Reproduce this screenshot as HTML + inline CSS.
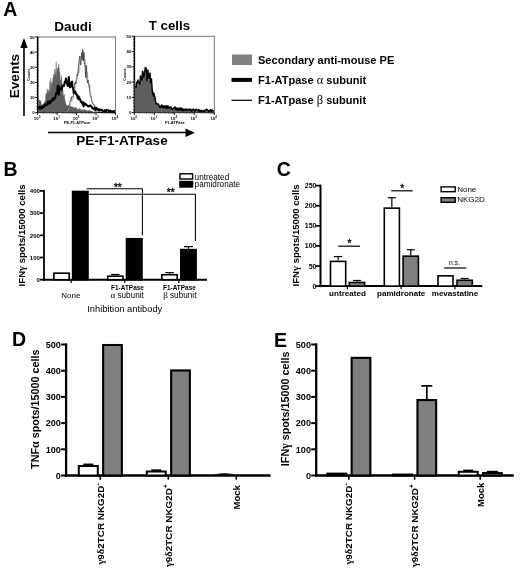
<!DOCTYPE html>
<html><head><meta charset="utf-8"><title>Figure</title>
<style>
html,body{margin:0;padding:0;background:#fff;}
svg{display:block;font-family:"Liberation Sans",sans-serif;}
</style></head><body>
<svg width="520" height="571" viewBox="0 0 520 571">
<rect width="520" height="571" fill="#fff"/>
<text x="3.2" y="16.1" font-size="19.5" font-weight="bold" text-anchor="start" fill="#000">A</text>
<text x="73" y="31" font-size="13.5" font-weight="bold" text-anchor="middle" fill="#000">Daudi</text>
<text x="169.4" y="29.6" font-size="13.3" font-weight="bold" text-anchor="middle" fill="#000">T cells</text>
<line x1="24" y1="116" x2="24" y2="46" stroke="#000" stroke-width="1.6" stroke-linecap="butt"/>
<path d="M24 38 L20.3 48 L27.7 48 Z" fill="#000" stroke="none" stroke-width="1" stroke-linejoin="round"/>
<text x="18.5" y="76" font-size="13.5" font-weight="bold" text-anchor="middle" fill="#000" transform="rotate(-90 18.5 76)">Events</text>
<line x1="48" y1="132.5" x2="188" y2="132.5" stroke="#000" stroke-width="1.6" stroke-linecap="butt"/>
<path d="M194.8 132.8 L185.5 128.6 L185.5 137 Z" fill="#000" stroke="none" stroke-width="1" stroke-linejoin="round"/>
<text x="122" y="145" font-size="13.5" font-weight="bold" text-anchor="middle" fill="#000">PE-F1-ATPase</text>
<rect x="37.70" y="37.00" width="77.80" height="75.60" fill="#fff" stroke="#666" stroke-width="0.9"/>
<line x1="37.7" y1="37" x2="37.7" y2="112.6" stroke="#000" stroke-width="1.5" stroke-linecap="butt"/>
<line x1="37.7" y1="112.6" x2="115.5" y2="112.6" stroke="#000" stroke-width="0.9" stroke-linecap="butt"/>
<line x1="36.400000000000006" y1="112.6" x2="37.7" y2="112.6" stroke="#000" stroke-width="0.6" stroke-linecap="butt"/>
<line x1="36.400000000000006" y1="109.576" x2="37.7" y2="109.576" stroke="#000" stroke-width="0.6" stroke-linecap="butt"/>
<line x1="36.400000000000006" y1="106.55199999999999" x2="37.7" y2="106.55199999999999" stroke="#000" stroke-width="0.6" stroke-linecap="butt"/>
<line x1="36.400000000000006" y1="103.52799999999999" x2="37.7" y2="103.52799999999999" stroke="#000" stroke-width="0.6" stroke-linecap="butt"/>
<line x1="36.400000000000006" y1="100.50399999999999" x2="37.7" y2="100.50399999999999" stroke="#000" stroke-width="0.6" stroke-linecap="butt"/>
<line x1="36.400000000000006" y1="97.47999999999999" x2="37.7" y2="97.47999999999999" stroke="#000" stroke-width="0.6" stroke-linecap="butt"/>
<line x1="36.400000000000006" y1="94.45599999999999" x2="37.7" y2="94.45599999999999" stroke="#000" stroke-width="0.6" stroke-linecap="butt"/>
<line x1="36.400000000000006" y1="91.432" x2="37.7" y2="91.432" stroke="#000" stroke-width="0.6" stroke-linecap="butt"/>
<line x1="36.400000000000006" y1="88.408" x2="37.7" y2="88.408" stroke="#000" stroke-width="0.6" stroke-linecap="butt"/>
<line x1="36.400000000000006" y1="85.384" x2="37.7" y2="85.384" stroke="#000" stroke-width="0.6" stroke-linecap="butt"/>
<line x1="36.400000000000006" y1="82.36" x2="37.7" y2="82.36" stroke="#000" stroke-width="0.6" stroke-linecap="butt"/>
<line x1="36.400000000000006" y1="79.336" x2="37.7" y2="79.336" stroke="#000" stroke-width="0.6" stroke-linecap="butt"/>
<line x1="36.400000000000006" y1="76.312" x2="37.7" y2="76.312" stroke="#000" stroke-width="0.6" stroke-linecap="butt"/>
<line x1="36.400000000000006" y1="73.288" x2="37.7" y2="73.288" stroke="#000" stroke-width="0.6" stroke-linecap="butt"/>
<line x1="36.400000000000006" y1="70.26400000000001" x2="37.7" y2="70.26400000000001" stroke="#000" stroke-width="0.6" stroke-linecap="butt"/>
<line x1="36.400000000000006" y1="67.24" x2="37.7" y2="67.24" stroke="#000" stroke-width="0.6" stroke-linecap="butt"/>
<line x1="36.400000000000006" y1="64.21600000000001" x2="37.7" y2="64.21600000000001" stroke="#000" stroke-width="0.6" stroke-linecap="butt"/>
<line x1="36.400000000000006" y1="61.192" x2="37.7" y2="61.192" stroke="#000" stroke-width="0.6" stroke-linecap="butt"/>
<line x1="36.400000000000006" y1="58.168" x2="37.7" y2="58.168" stroke="#000" stroke-width="0.6" stroke-linecap="butt"/>
<line x1="36.400000000000006" y1="55.144" x2="37.7" y2="55.144" stroke="#000" stroke-width="0.6" stroke-linecap="butt"/>
<line x1="36.400000000000006" y1="52.12" x2="37.7" y2="52.12" stroke="#000" stroke-width="0.6" stroke-linecap="butt"/>
<line x1="36.400000000000006" y1="49.096" x2="37.7" y2="49.096" stroke="#000" stroke-width="0.6" stroke-linecap="butt"/>
<line x1="36.400000000000006" y1="46.072" x2="37.7" y2="46.072" stroke="#000" stroke-width="0.6" stroke-linecap="butt"/>
<line x1="36.400000000000006" y1="43.048" x2="37.7" y2="43.048" stroke="#000" stroke-width="0.6" stroke-linecap="butt"/>
<line x1="36.400000000000006" y1="40.024" x2="37.7" y2="40.024" stroke="#000" stroke-width="0.6" stroke-linecap="butt"/>
<line x1="36.400000000000006" y1="37.0" x2="37.7" y2="37.0" stroke="#000" stroke-width="0.6" stroke-linecap="butt"/>
<line x1="35.1" y1="112.6" x2="37.7" y2="112.6" stroke="#000" stroke-width="0.9" stroke-linecap="butt"/>
<text x="34.7" y="114.1" font-size="4.3" font-weight="bold" text-anchor="end" fill="#000">0</text>
<line x1="35.1" y1="97.47999999999999" x2="37.7" y2="97.47999999999999" stroke="#000" stroke-width="0.9" stroke-linecap="butt"/>
<text x="34.7" y="98.97999999999999" font-size="4.3" font-weight="bold" text-anchor="end" fill="#000">10</text>
<line x1="35.1" y1="82.36" x2="37.7" y2="82.36" stroke="#000" stroke-width="0.9" stroke-linecap="butt"/>
<text x="34.7" y="83.86" font-size="4.3" font-weight="bold" text-anchor="end" fill="#000">20</text>
<line x1="35.1" y1="67.24" x2="37.7" y2="67.24" stroke="#000" stroke-width="0.9" stroke-linecap="butt"/>
<text x="34.7" y="68.74" font-size="4.3" font-weight="bold" text-anchor="end" fill="#000">30</text>
<line x1="35.1" y1="52.12" x2="37.7" y2="52.12" stroke="#000" stroke-width="0.9" stroke-linecap="butt"/>
<text x="34.7" y="53.62" font-size="4.3" font-weight="bold" text-anchor="end" fill="#000">40</text>
<line x1="35.1" y1="37.0" x2="37.7" y2="37.0" stroke="#000" stroke-width="0.9" stroke-linecap="butt"/>
<text x="34.7" y="38.5" font-size="4.3" font-weight="bold" text-anchor="end" fill="#000">50</text>
<line x1="37.7" y1="112.6" x2="37.7" y2="115.0" stroke="#000" stroke-width="0.9" stroke-linecap="butt"/>
<text x="37.1" y="119.6" font-size="4.4" font-weight="bold" text-anchor="middle">10<tspan dy="-1.8" font-size="3">0</tspan></text>
<line x1="43.55503341566444" y1="112.6" x2="43.55503341566444" y2="113.8" stroke="#000" stroke-width="0.4" stroke-linecap="butt"/>
<line x1="46.980008404297436" y1="112.6" x2="46.980008404297436" y2="113.8" stroke="#000" stroke-width="0.4" stroke-linecap="butt"/>
<line x1="49.41006683132887" y1="112.6" x2="49.41006683132887" y2="113.8" stroke="#000" stroke-width="0.4" stroke-linecap="butt"/>
<line x1="51.29496658433557" y1="112.6" x2="51.29496658433557" y2="113.8" stroke="#000" stroke-width="0.4" stroke-linecap="butt"/>
<line x1="52.83504181996187" y1="112.6" x2="52.83504181996187" y2="113.8" stroke="#000" stroke-width="0.4" stroke-linecap="butt"/>
<line x1="54.137156878277295" y1="112.6" x2="54.137156878277295" y2="113.8" stroke="#000" stroke-width="0.4" stroke-linecap="butt"/>
<line x1="55.2651002469933" y1="112.6" x2="55.2651002469933" y2="113.8" stroke="#000" stroke-width="0.4" stroke-linecap="butt"/>
<line x1="56.26001680859487" y1="112.6" x2="56.26001680859487" y2="113.8" stroke="#000" stroke-width="0.4" stroke-linecap="butt"/>
<line x1="57.150000000000006" y1="112.6" x2="57.150000000000006" y2="115.0" stroke="#000" stroke-width="0.9" stroke-linecap="butt"/>
<text x="56.6" y="119.6" font-size="4.4" font-weight="bold" text-anchor="middle">10<tspan dy="-1.8" font-size="3">1</tspan></text>
<line x1="63.00503341566444" y1="112.6" x2="63.00503341566444" y2="113.8" stroke="#000" stroke-width="0.4" stroke-linecap="butt"/>
<line x1="66.43000840429744" y1="112.6" x2="66.43000840429744" y2="113.8" stroke="#000" stroke-width="0.4" stroke-linecap="butt"/>
<line x1="68.86006683132888" y1="112.6" x2="68.86006683132888" y2="113.8" stroke="#000" stroke-width="0.4" stroke-linecap="butt"/>
<line x1="70.74496658433557" y1="112.6" x2="70.74496658433557" y2="113.8" stroke="#000" stroke-width="0.4" stroke-linecap="butt"/>
<line x1="72.28504181996188" y1="112.6" x2="72.28504181996188" y2="113.8" stroke="#000" stroke-width="0.4" stroke-linecap="butt"/>
<line x1="73.5871568782773" y1="112.6" x2="73.5871568782773" y2="113.8" stroke="#000" stroke-width="0.4" stroke-linecap="butt"/>
<line x1="74.7151002469933" y1="112.6" x2="74.7151002469933" y2="113.8" stroke="#000" stroke-width="0.4" stroke-linecap="butt"/>
<line x1="75.71001680859487" y1="112.6" x2="75.71001680859487" y2="113.8" stroke="#000" stroke-width="0.4" stroke-linecap="butt"/>
<line x1="76.6" y1="112.6" x2="76.6" y2="115.0" stroke="#000" stroke-width="0.9" stroke-linecap="butt"/>
<text x="76.0" y="119.6" font-size="4.4" font-weight="bold" text-anchor="middle">10<tspan dy="-1.8" font-size="3">2</tspan></text>
<line x1="82.45503341566443" y1="112.6" x2="82.45503341566443" y2="113.8" stroke="#000" stroke-width="0.4" stroke-linecap="butt"/>
<line x1="85.88000840429743" y1="112.6" x2="85.88000840429743" y2="113.8" stroke="#000" stroke-width="0.4" stroke-linecap="butt"/>
<line x1="88.31006683132887" y1="112.6" x2="88.31006683132887" y2="113.8" stroke="#000" stroke-width="0.4" stroke-linecap="butt"/>
<line x1="90.19496658433556" y1="112.6" x2="90.19496658433556" y2="113.8" stroke="#000" stroke-width="0.4" stroke-linecap="butt"/>
<line x1="91.73504181996186" y1="112.6" x2="91.73504181996186" y2="113.8" stroke="#000" stroke-width="0.4" stroke-linecap="butt"/>
<line x1="93.03715687827729" y1="112.6" x2="93.03715687827729" y2="113.8" stroke="#000" stroke-width="0.4" stroke-linecap="butt"/>
<line x1="94.16510024699329" y1="112.6" x2="94.16510024699329" y2="113.8" stroke="#000" stroke-width="0.4" stroke-linecap="butt"/>
<line x1="95.16001680859486" y1="112.6" x2="95.16001680859486" y2="113.8" stroke="#000" stroke-width="0.4" stroke-linecap="butt"/>
<line x1="96.05" y1="112.6" x2="96.05" y2="115.0" stroke="#000" stroke-width="0.9" stroke-linecap="butt"/>
<text x="95.5" y="119.6" font-size="4.4" font-weight="bold" text-anchor="middle">10<tspan dy="-1.8" font-size="3">3</tspan></text>
<line x1="101.90503341566443" y1="112.6" x2="101.90503341566443" y2="113.8" stroke="#000" stroke-width="0.4" stroke-linecap="butt"/>
<line x1="105.33000840429743" y1="112.6" x2="105.33000840429743" y2="113.8" stroke="#000" stroke-width="0.4" stroke-linecap="butt"/>
<line x1="107.76006683132887" y1="112.6" x2="107.76006683132887" y2="113.8" stroke="#000" stroke-width="0.4" stroke-linecap="butt"/>
<line x1="109.64496658433556" y1="112.6" x2="109.64496658433556" y2="113.8" stroke="#000" stroke-width="0.4" stroke-linecap="butt"/>
<line x1="111.18504181996187" y1="112.6" x2="111.18504181996187" y2="113.8" stroke="#000" stroke-width="0.4" stroke-linecap="butt"/>
<line x1="112.48715687827729" y1="112.6" x2="112.48715687827729" y2="113.8" stroke="#000" stroke-width="0.4" stroke-linecap="butt"/>
<line x1="113.6151002469933" y1="112.6" x2="113.6151002469933" y2="113.8" stroke="#000" stroke-width="0.4" stroke-linecap="butt"/>
<line x1="114.61001680859486" y1="112.6" x2="114.61001680859486" y2="113.8" stroke="#000" stroke-width="0.4" stroke-linecap="butt"/>
<line x1="115.5" y1="112.6" x2="115.5" y2="115.0" stroke="#000" stroke-width="0.9" stroke-linecap="butt"/>
<text x="114.9" y="119.6" font-size="4.4" font-weight="bold" text-anchor="middle">10<tspan dy="-1.8" font-size="3">4</tspan></text>
<text x="29.700000000000003" y="74.8" font-size="3.6" font-weight="bold" text-anchor="middle" fill="#000" transform="rotate(-90 29.700000000000003 74.8)">Counts</text>
<text x="77.1" y="123.6" font-size="3.9" font-weight="bold" text-anchor="middle" fill="#000">PE-F1-ATPase</text>
<path d="M38.2 101.1 L38.7 98.9 L39.1 101.3 L39.6 100.1 L40.0 100.1 L40.5 100.9 L40.9 101.8 L41.4 105.1 L41.8 105.6 L42.2 105.9 L42.7 105.0 L43.2 105.1 L43.6 103.7 L44.1 102.9 L44.5 101.7 L45.0 101.9 L45.4 100.3 L45.9 93.5 L46.3 94.3 L46.8 93.9 L47.2 88.8 L47.7 91.3 L48.1 92.6 L48.5 89.7 L49.0 93.5 L49.5 90.2 L49.9 81.0 L50.3 92.9 L50.8 78.0 L51.2 89.1 L51.7 82.2 L52.1 84.1 L52.6 81.2 L53.0 78.7 L53.5 74.2 L53.9 75.1 L54.4 77.9 L54.8 69.1 L55.3 74.2 L55.7 73.3 L56.2 61.7 L56.6 78.2 L57.1 70.1 L57.5 68.5 L58.0 68.3 L58.4 67.3 L58.9 64.3 L59.3 71.0 L59.8 72.4 L60.2 79.0 L60.7 80.6 L61.1 81.6 L61.6 75.6 L62.0 84.1 L62.5 86.6 L62.9 90.0 L63.4 95.5 L63.8 96.2 L64.3 94.3 L64.7 98.7 L65.2 100.9 L65.6 103.1 L66.1 104.6 L66.5 106.1 L67.0 105.5 L67.4 106.3 L67.9 105.3 L68.3 105.5 L68.8 106.2 L69.2 105.1 L69.7 105.8 L70.1 106.1 L70.6 106.4 L71.0 107.0 L71.5 106.6 L71.9 107.3 L72.4 106.9 L72.8 106.9 L73.3 107.4 L73.8 107.5 L74.2 107.6 L74.7 108.7 L75.1 107.7 L75.6 107.5 L76.0 107.5 L76.5 107.8 L76.9 109.0 L77.4 109.4 L77.8 109.0 L78.3 109.4 L78.7 108.8 L79.2 109.7 L79.6 108.1 L80.1 108.7 L80.5 109.5 L81.0 109.8 L81.4 109.4 L81.9 110.1 L82.3 110.2 L82.8 110.2 L83.2 109.5 L83.7 110.7 L84.1 109.0 L84.6 109.6 L85.0 110.7 L85.5 110.0 L85.9 110.0 L86.4 110.3 L86.8 110.8 L87.3 110.8 L87.7 110.8 L88.2 110.1 L88.6 110.9 L89.1 110.4 L89.5 110.3 L90.0 110.4 L90.4 110.9 L90.9 110.5 L91.3 111.4 L91.8 111.1 L92.2 110.9 L92.7 112.0 L93.1 111.9 L93.6 112.0 L94.0 111.9 L94.5 111.5 L94.9 111.8 L95.4 111.3 L95.8 112.0 L96.3 112.0 L96.7 111.3 L97.2 111.9 L97.6 111.9 L97.6 112.3 L38.2 112.3 Z" fill="#5e5e5e" stroke="#5e5e5e" stroke-width="0.4" stroke-linejoin="round"/>
<path d="M64.2 111.2 L64.7 112.0 L65.1 110.6 L65.5 110.6 L66.0 110.6 L66.5 111.2 L66.9 110.6 L67.3 110.7 L67.8 108.7 L68.2 109.9 L68.7 107.9 L69.1 107.1 L69.6 105.6 L70.0 104.3 L70.5 104.6 L70.9 103.0 L71.4 98.4 L71.8 102.3 L72.3 99.7 L72.8 98.6 L73.2 99.3 L73.7 98.2 L74.1 92.8 L74.6 91.2 L75.0 91.4 L75.5 83.4 L75.9 83.8 L76.4 82.6 L76.8 79.8 L77.3 75.0 L77.7 71.3 L78.2 73.6 L78.6 62.1 L79.1 73.0 L79.5 70.9 L80.0 64.6 L80.4 64.6 L80.9 64.6 L81.3 55.8 L81.8 57.6 L82.2 53.7 L82.7 53.1 L83.1 58.7 L83.6 56.9 L84.0 58.9 L84.5 64.2 L84.9 66.5 L85.4 59.9 L85.8 72.4 L86.3 73.1 L86.7 65.5 L87.2 78.4 L87.6 71.8 L88.1 80.6 L88.5 86.1 L89.0 84.8 L89.4 88.6 L89.9 83.6 L90.3 91.6 L90.8 92.0 L91.2 95.7 L91.7 99.4 L92.1 100.5 L92.6 102.3 L93.0 103.6 L93.5 104.3 L93.9 104.7 L94.4 105.6 L94.8 108.1 L95.3 106.3 L95.7 107.0 L96.2 107.6 L96.6 108.3 L97.1 108.9 L97.5 108.5 L98.0 108.9 L98.4 109.9 L98.9 108.8 L99.3 108.6 L99.8 108.9 L100.2 110.3 L100.7 110.9 L101.1 111.1 L101.6 109.1 L102.0 111.4 L102.5 110.8 L102.9 110.3 L103.4 110.4 L103.8 111.7 L104.3 111.6 L104.7 111.1 L105.2 111.2 L105.6 110.9 L106.1 111.2 L106.5 111.3 L107.0 111.0 L107.4 110.6 L107.9 110.4 L108.3 112.0 L108.8 111.5 L109.2 111.1 L109.7 110.6 L110.1 112.0" fill="none" stroke="#aaa" stroke-width="0.6" stroke-linejoin="round"/>
<path d="M63.7 110.9 L64.2 110.6 L64.6 111.4 L65.0 110.8 L65.5 109.5 L66.0 110.4 L66.4 109.8 L66.8 109.5 L67.3 109.3 L67.8 108.0 L68.2 107.1 L68.6 107.0 L69.1 105.9 L69.5 103.5 L70.0 101.8 L70.4 100.5 L70.9 100.9 L71.3 97.4 L71.8 98.6 L72.2 96.5 L72.7 97.2 L73.2 96.4 L73.6 92.4 L74.1 88.7 L74.5 83.8 L75.0 84.0 L75.4 81.6 L75.9 84.1 L76.3 79.9 L76.8 78.6 L77.2 74.2 L77.7 75.6 L78.1 71.4 L78.6 65.1 L79.0 63.8 L79.5 57.5 L79.9 56.0 L80.4 64.6 L80.8 65.2 L81.3 56.8 L81.7 52.5 L82.2 60.3 L82.6 49.5 L83.1 51.4 L83.5 60.9 L84.0 52.3 L84.4 63.7 L84.9 63.6 L85.3 71.4 L85.8 77.9 L86.2 65.5 L86.7 72.9 L87.1 80.3 L87.6 82.8 L88.0 80.1 L88.5 83.7 L88.9 84.9 L89.4 87.8 L89.8 92.6 L90.3 95.3 L90.7 95.8 L91.2 98.4 L91.6 99.8 L92.1 102.7 L92.5 103.9 L93.0 103.6 L93.4 104.6 L93.9 104.4 L94.3 105.5 L94.8 107.2 L95.2 107.1 L95.7 107.4 L96.1 107.9 L96.6 107.4 L97.0 108.5 L97.5 108.4 L97.9 108.2 L98.4 108.2 L98.8 108.9 L99.3 108.6 L99.7 109.5 L100.2 109.4 L100.6 109.9 L101.1 109.6 L101.5 110.0 L102.0 109.9 L102.4 110.1 L102.9 110.2 L103.3 110.3 L103.8 110.6 L104.2 110.0 L104.7 110.5 L105.1 110.4 L105.6 111.2 L106.0 110.5 L106.5 111.0 L106.9 110.8 L107.4 110.7 L107.8 111.0 L108.3 110.8 L108.7 110.8 L109.2 111.5 L109.6 111.6" fill="none" stroke="#333" stroke-width="0.75" stroke-linejoin="round"/>
<path d="M38.5 109.3 L39.1 107.2 L39.6 106.5 L40.2 108.5 L40.7 108.8 L41.2 107.5 L41.8 106.4 L42.4 107.9 L42.9 106.5 L43.5 105.2 L44.0 107.2 L44.6 105.8 L45.1 104.6 L45.6 104.1 L46.2 105.3 L46.8 104.7 L47.3 104.8 L47.9 101.4 L48.4 103.7 L49.0 103.6 L49.5 101.3 L50.1 103.2 L50.6 102.1 L51.2 100.6 L51.7 101.3 L52.3 99.6 L52.8 98.8 L53.4 98.1 L53.9 99.8 L54.5 98.8 L55.0 98.2 L55.6 96.0 L56.1 93.1 L56.7 93.9 L57.2 92.2 L57.8 85.6 L58.3 92.4 L58.9 94.8 L59.4 87.3 L60.0 88.7 L60.5 89.1 L61.1 88.4 L61.6 89.9 L62.2 86.8 L62.7 85.4 L63.3 85.5 L63.8 86.2 L64.4 83.6 L64.9 81.4 L65.5 81.2 L66.0 78.4 L66.6 83.1 L67.1 83.9 L67.7 86.1 L68.2 83.2 L68.8 77.1 L69.3 82.2 L69.9 87.4 L70.4 85.1 L71.0 86.5 L71.5 82.6 L72.1 81.6 L72.6 87.4 L73.2 88.1 L73.7 93.1 L74.2 93.2 L74.8 91.7 L75.3 91.5 L75.9 93.3 L76.4 94.6 L77.0 94.6 L77.5 98.2 L78.1 96.0 L78.6 99.3 L79.2 97.3 L79.7 99.2 L80.3 99.6 L80.8 102.0 L81.4 101.6 L81.9 102.7 L82.5 103.9 L83.0 102.3 L83.6 106.6 L84.1 103.2 L84.7 103.3 L85.2 104.8 L85.8 104.1 L86.3 105.0 L86.9 105.2 L87.4 105.6 L88.0 106.2 L88.5 106.5 L89.1 106.1 L89.6 105.6 L90.2 106.1 L90.7 105.6 L91.3 106.5 L91.8 106.8 L92.4 108.3 L92.9 108.5 L93.5 108.8 L94.0 108.4 L94.6 109.7 L95.1 107.8 L95.7 110.1 L96.2 107.7 L96.8 108.8 L97.3 109.1 L97.9 110.1 L98.4 109.1 L99.0 110.7 L99.5 110.6 L100.1 109.8 L100.6 109.6 L101.2 110.5 L101.7 109.8 L102.3 110.2 L102.8 110.9 L103.4 111.4 L103.9 111.4 L104.5 111.2 L105.0 110.1 L105.6 111.4 L106.1 111.4 L106.7 110.0 L107.2 110.4 L107.8 110.2 L108.3 110.2 L108.9 111.4 L109.4 111.4 L110.0 111.4 L110.5 110.5 L111.1 111.4 L111.6 111.3 L112.2 111.4 L112.7 111.4 L113.3 111.4 L113.8 111.2 L114.4 111.0 L114.9 111.4" fill="none" stroke="#000" stroke-width="2.0" stroke-linejoin="round"/>
<rect x="134.40" y="36.30" width="79.90" height="76.30" fill="#fff" stroke="#666" stroke-width="0.9"/>
<line x1="134.4" y1="36.3" x2="134.4" y2="112.6" stroke="#000" stroke-width="1.5" stroke-linecap="butt"/>
<line x1="134.4" y1="112.6" x2="214.3" y2="112.6" stroke="#000" stroke-width="0.9" stroke-linecap="butt"/>
<line x1="133.1" y1="112.6" x2="134.4" y2="112.6" stroke="#000" stroke-width="0.6" stroke-linecap="butt"/>
<line x1="133.1" y1="109.54799999999999" x2="134.4" y2="109.54799999999999" stroke="#000" stroke-width="0.6" stroke-linecap="butt"/>
<line x1="133.1" y1="106.496" x2="134.4" y2="106.496" stroke="#000" stroke-width="0.6" stroke-linecap="butt"/>
<line x1="133.1" y1="103.44399999999999" x2="134.4" y2="103.44399999999999" stroke="#000" stroke-width="0.6" stroke-linecap="butt"/>
<line x1="133.1" y1="100.392" x2="134.4" y2="100.392" stroke="#000" stroke-width="0.6" stroke-linecap="butt"/>
<line x1="133.1" y1="97.33999999999999" x2="134.4" y2="97.33999999999999" stroke="#000" stroke-width="0.6" stroke-linecap="butt"/>
<line x1="133.1" y1="94.288" x2="134.4" y2="94.288" stroke="#000" stroke-width="0.6" stroke-linecap="butt"/>
<line x1="133.1" y1="91.23599999999999" x2="134.4" y2="91.23599999999999" stroke="#000" stroke-width="0.6" stroke-linecap="butt"/>
<line x1="133.1" y1="88.184" x2="134.4" y2="88.184" stroke="#000" stroke-width="0.6" stroke-linecap="butt"/>
<line x1="133.1" y1="85.132" x2="134.4" y2="85.132" stroke="#000" stroke-width="0.6" stroke-linecap="butt"/>
<line x1="133.1" y1="82.08" x2="134.4" y2="82.08" stroke="#000" stroke-width="0.6" stroke-linecap="butt"/>
<line x1="133.1" y1="79.02799999999999" x2="134.4" y2="79.02799999999999" stroke="#000" stroke-width="0.6" stroke-linecap="butt"/>
<line x1="133.1" y1="75.976" x2="134.4" y2="75.976" stroke="#000" stroke-width="0.6" stroke-linecap="butt"/>
<line x1="133.1" y1="72.92399999999999" x2="134.4" y2="72.92399999999999" stroke="#000" stroke-width="0.6" stroke-linecap="butt"/>
<line x1="133.1" y1="69.87199999999999" x2="134.4" y2="69.87199999999999" stroke="#000" stroke-width="0.6" stroke-linecap="butt"/>
<line x1="133.1" y1="66.82" x2="134.4" y2="66.82" stroke="#000" stroke-width="0.6" stroke-linecap="butt"/>
<line x1="133.1" y1="63.767999999999994" x2="134.4" y2="63.767999999999994" stroke="#000" stroke-width="0.6" stroke-linecap="butt"/>
<line x1="133.1" y1="60.716" x2="134.4" y2="60.716" stroke="#000" stroke-width="0.6" stroke-linecap="butt"/>
<line x1="133.1" y1="57.664" x2="134.4" y2="57.664" stroke="#000" stroke-width="0.6" stroke-linecap="butt"/>
<line x1="133.1" y1="54.611999999999995" x2="134.4" y2="54.611999999999995" stroke="#000" stroke-width="0.6" stroke-linecap="butt"/>
<line x1="133.1" y1="51.559999999999995" x2="134.4" y2="51.559999999999995" stroke="#000" stroke-width="0.6" stroke-linecap="butt"/>
<line x1="133.1" y1="48.507999999999996" x2="134.4" y2="48.507999999999996" stroke="#000" stroke-width="0.6" stroke-linecap="butt"/>
<line x1="133.1" y1="45.456" x2="134.4" y2="45.456" stroke="#000" stroke-width="0.6" stroke-linecap="butt"/>
<line x1="133.1" y1="42.403999999999996" x2="134.4" y2="42.403999999999996" stroke="#000" stroke-width="0.6" stroke-linecap="butt"/>
<line x1="133.1" y1="39.352000000000004" x2="134.4" y2="39.352000000000004" stroke="#000" stroke-width="0.6" stroke-linecap="butt"/>
<line x1="133.1" y1="36.3" x2="134.4" y2="36.3" stroke="#000" stroke-width="0.6" stroke-linecap="butt"/>
<line x1="131.8" y1="112.6" x2="134.4" y2="112.6" stroke="#000" stroke-width="0.9" stroke-linecap="butt"/>
<text x="131.4" y="114.1" font-size="4.3" font-weight="bold" text-anchor="end" fill="#000">0</text>
<line x1="131.8" y1="97.33999999999999" x2="134.4" y2="97.33999999999999" stroke="#000" stroke-width="0.9" stroke-linecap="butt"/>
<text x="131.4" y="98.83999999999999" font-size="4.3" font-weight="bold" text-anchor="end" fill="#000">10</text>
<line x1="131.8" y1="82.08" x2="134.4" y2="82.08" stroke="#000" stroke-width="0.9" stroke-linecap="butt"/>
<text x="131.4" y="83.58" font-size="4.3" font-weight="bold" text-anchor="end" fill="#000">20</text>
<line x1="131.8" y1="66.82" x2="134.4" y2="66.82" stroke="#000" stroke-width="0.9" stroke-linecap="butt"/>
<text x="131.4" y="68.32" font-size="4.3" font-weight="bold" text-anchor="end" fill="#000">30</text>
<line x1="131.8" y1="51.559999999999995" x2="134.4" y2="51.559999999999995" stroke="#000" stroke-width="0.9" stroke-linecap="butt"/>
<text x="131.4" y="53.059999999999995" font-size="4.3" font-weight="bold" text-anchor="end" fill="#000">40</text>
<line x1="131.8" y1="36.3" x2="134.4" y2="36.3" stroke="#000" stroke-width="0.9" stroke-linecap="butt"/>
<text x="131.4" y="37.8" font-size="4.3" font-weight="bold" text-anchor="end" fill="#000">50</text>
<line x1="134.4" y1="112.6" x2="134.4" y2="115.0" stroke="#000" stroke-width="0.9" stroke-linecap="butt"/>
<text x="133.8" y="119.6" font-size="4.4" font-weight="bold" text-anchor="middle">10<tspan dy="-1.8" font-size="3">0</tspan></text>
<line x1="140.41307416338802" y1="112.6" x2="140.41307416338802" y2="113.8" stroke="#000" stroke-width="0.4" stroke-linecap="butt"/>
<line x1="143.93049706302526" y1="112.6" x2="143.93049706302526" y2="113.8" stroke="#000" stroke-width="0.4" stroke-linecap="butt"/>
<line x1="146.42614832677606" y1="112.6" x2="146.42614832677606" y2="113.8" stroke="#000" stroke-width="0.4" stroke-linecap="butt"/>
<line x1="148.361925836612" y1="112.6" x2="148.361925836612" y2="113.8" stroke="#000" stroke-width="0.4" stroke-linecap="butt"/>
<line x1="149.9435712264133" y1="112.6" x2="149.9435712264133" y2="113.8" stroke="#000" stroke-width="0.4" stroke-linecap="butt"/>
<line x1="151.2808333492848" y1="112.6" x2="151.2808333492848" y2="113.8" stroke="#000" stroke-width="0.4" stroke-linecap="butt"/>
<line x1="152.43922249016407" y1="112.6" x2="152.43922249016407" y2="113.8" stroke="#000" stroke-width="0.4" stroke-linecap="butt"/>
<line x1="153.46099412605054" y1="112.6" x2="153.46099412605054" y2="113.8" stroke="#000" stroke-width="0.4" stroke-linecap="butt"/>
<line x1="154.375" y1="112.6" x2="154.375" y2="115.0" stroke="#000" stroke-width="0.9" stroke-linecap="butt"/>
<text x="153.8" y="119.6" font-size="4.4" font-weight="bold" text-anchor="middle">10<tspan dy="-1.8" font-size="3">1</tspan></text>
<line x1="160.388074163388" y1="112.6" x2="160.388074163388" y2="113.8" stroke="#000" stroke-width="0.4" stroke-linecap="butt"/>
<line x1="163.90549706302525" y1="112.6" x2="163.90549706302525" y2="113.8" stroke="#000" stroke-width="0.4" stroke-linecap="butt"/>
<line x1="166.40114832677605" y1="112.6" x2="166.40114832677605" y2="113.8" stroke="#000" stroke-width="0.4" stroke-linecap="butt"/>
<line x1="168.33692583661198" y1="112.6" x2="168.33692583661198" y2="113.8" stroke="#000" stroke-width="0.4" stroke-linecap="butt"/>
<line x1="169.9185712264133" y1="112.6" x2="169.9185712264133" y2="113.8" stroke="#000" stroke-width="0.4" stroke-linecap="butt"/>
<line x1="171.25583334928479" y1="112.6" x2="171.25583334928479" y2="113.8" stroke="#000" stroke-width="0.4" stroke-linecap="butt"/>
<line x1="172.41422249016406" y1="112.6" x2="172.41422249016406" y2="113.8" stroke="#000" stroke-width="0.4" stroke-linecap="butt"/>
<line x1="173.4359941260505" y1="112.6" x2="173.4359941260505" y2="113.8" stroke="#000" stroke-width="0.4" stroke-linecap="butt"/>
<line x1="174.35000000000002" y1="112.6" x2="174.35000000000002" y2="115.0" stroke="#000" stroke-width="0.9" stroke-linecap="butt"/>
<text x="173.8" y="119.6" font-size="4.4" font-weight="bold" text-anchor="middle">10<tspan dy="-1.8" font-size="3">2</tspan></text>
<line x1="180.36307416338803" y1="112.6" x2="180.36307416338803" y2="113.8" stroke="#000" stroke-width="0.4" stroke-linecap="butt"/>
<line x1="183.88049706302527" y1="112.6" x2="183.88049706302527" y2="113.8" stroke="#000" stroke-width="0.4" stroke-linecap="butt"/>
<line x1="186.37614832677608" y1="112.6" x2="186.37614832677608" y2="113.8" stroke="#000" stroke-width="0.4" stroke-linecap="butt"/>
<line x1="188.311925836612" y1="112.6" x2="188.311925836612" y2="113.8" stroke="#000" stroke-width="0.4" stroke-linecap="butt"/>
<line x1="189.89357122641331" y1="112.6" x2="189.89357122641331" y2="113.8" stroke="#000" stroke-width="0.4" stroke-linecap="butt"/>
<line x1="191.2308333492848" y1="112.6" x2="191.2308333492848" y2="113.8" stroke="#000" stroke-width="0.4" stroke-linecap="butt"/>
<line x1="192.3892224901641" y1="112.6" x2="192.3892224901641" y2="113.8" stroke="#000" stroke-width="0.4" stroke-linecap="butt"/>
<line x1="193.41099412605053" y1="112.6" x2="193.41099412605053" y2="113.8" stroke="#000" stroke-width="0.4" stroke-linecap="butt"/>
<line x1="194.32500000000002" y1="112.6" x2="194.32500000000002" y2="115.0" stroke="#000" stroke-width="0.9" stroke-linecap="butt"/>
<text x="193.7" y="119.6" font-size="4.4" font-weight="bold" text-anchor="middle">10<tspan dy="-1.8" font-size="3">3</tspan></text>
<line x1="200.33807416338803" y1="112.6" x2="200.33807416338803" y2="113.8" stroke="#000" stroke-width="0.4" stroke-linecap="butt"/>
<line x1="203.85549706302527" y1="112.6" x2="203.85549706302527" y2="113.8" stroke="#000" stroke-width="0.4" stroke-linecap="butt"/>
<line x1="206.35114832677607" y1="112.6" x2="206.35114832677607" y2="113.8" stroke="#000" stroke-width="0.4" stroke-linecap="butt"/>
<line x1="208.286925836612" y1="112.6" x2="208.286925836612" y2="113.8" stroke="#000" stroke-width="0.4" stroke-linecap="butt"/>
<line x1="209.8685712264133" y1="112.6" x2="209.8685712264133" y2="113.8" stroke="#000" stroke-width="0.4" stroke-linecap="butt"/>
<line x1="211.2058333492848" y1="112.6" x2="211.2058333492848" y2="113.8" stroke="#000" stroke-width="0.4" stroke-linecap="butt"/>
<line x1="212.36422249016408" y1="112.6" x2="212.36422249016408" y2="113.8" stroke="#000" stroke-width="0.4" stroke-linecap="butt"/>
<line x1="213.38599412605055" y1="112.6" x2="213.38599412605055" y2="113.8" stroke="#000" stroke-width="0.4" stroke-linecap="butt"/>
<line x1="214.3" y1="112.6" x2="214.3" y2="115.0" stroke="#000" stroke-width="0.9" stroke-linecap="butt"/>
<text x="213.7" y="119.6" font-size="4.4" font-weight="bold" text-anchor="middle">10<tspan dy="-1.8" font-size="3">4</tspan></text>
<text x="126.4" y="74.44999999999999" font-size="3.6" font-weight="bold" text-anchor="middle" fill="#000" transform="rotate(-90 126.4 74.44999999999999)">Counts</text>
<text x="174.85000000000002" y="123.6" font-size="3.9" font-weight="bold" text-anchor="middle" fill="#000">F1-ATPase</text>
<path d="M134.8 80.6 L135.2 88.7 L135.7 87.2 L136.2 86.7 L136.6 83.9 L137.1 81.5 L137.5 81.9 L138.0 82.9 L138.4 86.8 L138.8 83.5 L139.3 80.7 L139.8 83.7 L140.2 76.4 L140.7 78.6 L141.1 80.8 L141.6 78.4 L142.0 79.9 L142.5 74.5 L142.9 75.9 L143.3 74.6 L143.8 71.1 L144.2 72.8 L144.7 66.7 L145.2 68.4 L145.6 72.1 L146.1 68.7 L146.5 71.9 L146.9 77.8 L147.4 72.8 L147.8 80.0 L148.3 81.6 L148.8 76.9 L149.2 74.1 L149.7 73.0 L150.1 76.3 L150.6 81.5 L151.0 82.0 L151.4 88.7 L151.9 85.1 L152.3 90.1 L152.8 90.6 L153.2 92.9 L153.7 91.6 L154.1 96.8 L154.6 96.8 L155.0 98.0 L155.5 100.2 L155.9 102.4 L156.4 104.8 L156.8 103.2 L157.3 104.9 L157.8 105.1 L158.2 105.8 L158.6 105.9 L159.1 105.4 L159.5 106.0 L160.0 105.8 L160.4 105.7 L160.9 105.5 L161.3 107.5 L161.8 107.6 L162.2 106.8 L162.7 106.8 L163.1 107.4 L163.6 107.9 L164.0 105.7 L164.5 107.2 L164.9 106.4 L165.4 106.9 L165.8 107.1 L166.3 107.3 L166.7 107.7 L167.2 108.3 L167.6 106.2 L168.1 106.9 L168.5 107.8 L169.0 108.4 L169.4 108.4 L169.9 108.6 L170.3 107.5 L170.8 108.8 L171.2 107.9 L171.7 109.0 L172.2 108.6 L172.6 108.4 L173.1 108.4 L173.5 108.4 L174.0 108.5 L174.4 107.7 L174.9 109.1 L175.3 108.9 L175.8 108.1 L176.2 109.3 L176.7 107.9 L177.1 108.6 L177.6 108.4 L178.0 108.3 L178.5 108.7 L178.9 108.2 L179.4 109.2 L179.8 109.6 L180.3 109.0 L180.7 109.7 L181.2 109.1 L181.6 109.4 L182.1 110.3 L182.5 109.2 L183.0 110.3 L183.4 109.9 L183.9 109.9 L184.3 110.1 L184.8 110.0 L185.2 110.4 L185.7 109.9 L186.1 110.2 L186.6 110.4 L187.0 110.8 L187.5 110.6 L187.9 110.1 L188.4 110.9 L188.8 110.5 L189.3 110.2 L189.7 110.2 L190.2 110.8 L190.6 110.4 L191.1 110.5 L191.5 109.4 L192.0 110.3 L192.4 110.2 L192.9 109.7 L193.3 110.1 L193.8 111.0 L194.2 110.4 L194.7 111.1 L195.1 109.4 L195.6 109.9 L196.0 110.8 L196.5 111.1 L196.9 110.3 L197.4 110.4 L197.8 111.2 L198.3 110.5 L198.7 110.7 L199.2 110.2 L199.6 110.5 L200.1 111.2 L200.5 111.1 L201.0 110.6 L201.4 110.3 L201.9 110.9 L202.3 110.2 L202.8 110.6 L203.2 110.3 L203.7 110.0 L204.1 110.1 L204.6 110.0 L205.0 111.3 L205.5 111.3 L205.9 110.0 L206.4 110.8 L206.8 110.8 L207.3 110.1 L207.7 111.5 L208.2 110.7 L208.6 110.4 L209.1 111.5 L209.5 110.6 L210.0 111.5 L210.4 110.4 L210.9 110.5 L211.3 110.6 L211.8 110.8 L212.2 111.1 L212.7 110.7 L213.1 111.3 L213.6 110.4 L213.6 112.3 L134.8 112.3 Z" fill="#5e5e5e" stroke="#5e5e5e" stroke-width="0.4" stroke-linejoin="round"/>
<path d="M135.0 86.8 L135.5 86.5 L136.0 87.3 L136.5 83.1 L137.0 82.1 L137.5 81.7 L138.0 80.0 L138.5 82.8 L139.0 83.3 L139.5 84.2 L140.0 83.8 L140.5 76.0 L141.0 78.0 L141.5 78.9 L142.0 80.1 L142.5 71.1 L143.0 73.1 L143.5 77.1 L144.0 76.3 L144.5 72.8 L145.0 71.6 L145.5 68.7 L146.0 67.6 L146.5 70.1 L147.0 80.8 L147.5 73.1 L148.0 70.2 L148.5 78.3 L149.0 74.7 L149.5 77.4 L150.0 73.0 L150.5 82.7 L151.0 79.3 L151.5 78.8 L152.0 87.2 L152.5 93.6 L153.0 93.1 L153.5 96.1 L154.0 93.5 L154.5 96.2 L155.0 97.0 L155.5 101.5 L156.0 103.9 L156.5 103.5 L157.0 104.1 L157.5 104.1 L158.0 103.9 L158.5 103.9 L159.0 105.9 L159.5 106.8 L160.0 107.4 L160.5 107.4 L161.0 107.1 L161.5 104.9 L162.0 106.9 L162.5 105.3 L163.0 107.7 L163.5 107.4 L164.0 106.0 L164.5 107.0 L165.0 106.0 L165.5 108.0 L166.0 107.7 L166.5 105.7 L167.0 108.6 L167.5 107.2 L168.0 105.7 L168.5 107.5 L169.0 108.2 L169.5 108.1 L170.0 107.2 L170.5 107.0 L171.0 106.7 L171.5 109.2 L172.0 109.3 L172.5 108.5 L173.0 108.8 L173.5 108.7 L174.0 107.8 L174.5 107.1 L175.0 108.8 L175.5 107.1 L176.0 109.0 L176.5 110.0 L177.0 108.0 L177.5 108.4 L178.0 109.6 L178.5 110.3 L179.0 108.0 L179.5 108.8 L180.0 109.7 L180.5 107.9 L181.0 109.5 L181.5 108.1 L182.0 110.7 L182.5 110.4 L183.0 108.8 L183.5 110.6 L184.0 109.7 L184.5 109.3 L185.0 110.2 L185.5 109.2 L186.0 109.0 L186.5 110.5 L187.0 109.4 L187.5 109.4 L188.0 110.0 L188.5 110.2 L189.0 108.9 L189.5 110.4 L190.0 109.2 L190.5 109.3 L191.0 109.9 L191.5 111.3 L192.0 110.8 L192.5 109.5 L193.0 109.3 L193.5 109.0 L194.0 110.2 L194.5 111.0 L195.0 110.1 L195.5 111.0 L196.0 109.1 L196.5 109.6 L197.0 109.9 L197.5 110.1 L198.0 109.7 L198.5 109.6 L199.0 111.4 L199.5 110.2 L200.0 111.4 L200.5 110.8 L201.0 110.3 L201.5 111.4 L202.0 110.9 L202.5 110.9 L203.0 110.9 L203.5 111.2 L204.0 110.8 L204.5 111.3 L205.0 110.4 L205.5 110.0 L206.0 110.3 L206.5 109.2 L207.0 109.4 L207.5 109.9 L208.0 110.7 L208.5 111.2 L209.0 110.6 L209.5 110.5 L210.0 111.3 L210.5 109.6 L211.0 111.1 L211.5 111.4 L212.0 109.6 L212.5 110.5 L213.0 110.7 L213.5 111.6" fill="none" stroke="#000" stroke-width="1.4" stroke-linejoin="round"/>
<rect x="232.00" y="54.50" width="20.00" height="10.50" fill="#808080" stroke="none" stroke-width="0"/>
<text x="258" y="64" font-size="11.05" font-weight="bold" text-anchor="start" fill="#000">Secondary anti-mouse PE</text>
<line x1="231.5" y1="79.9" x2="252" y2="79.9" stroke="#000" stroke-width="4" stroke-linecap="butt"/>
<text x="258" y="84.2" font-size="11.05" font-weight="bold" text-anchor="start" fill="#000">F1-ATpase <tspan font-family="Liberation Serif,serif" font-weight="normal" font-size="12.5">α</tspan> subunit</text>
<line x1="231.5" y1="100.3" x2="252" y2="100.3" stroke="#000" stroke-width="1.2" stroke-linecap="butt"/>
<text x="258" y="103.6" font-size="11.05" font-weight="bold" text-anchor="start" fill="#000">F1-ATpase <tspan font-family="Liberation Serif,serif" font-weight="normal" font-size="12.5">β</tspan> subunit</text>
<text x="3.6" y="176.3" font-size="19.5" font-weight="bold" text-anchor="start" fill="#000">B</text>
<line x1="44.0" y1="189.99999999999997" x2="44.0" y2="280.7" stroke="#000" stroke-width="1.8" stroke-linecap="butt"/>
<line x1="43.1" y1="279.7" x2="207" y2="279.7" stroke="#000" stroke-width="2" stroke-linecap="butt"/>
<line x1="40.0" y1="279.7" x2="44.0" y2="279.7" stroke="#000" stroke-width="1.7" stroke-linecap="butt"/>
<text x="40.0" y="281.9" font-size="6.1" font-weight="bold" text-anchor="end" fill="#000">0</text>
<line x1="40.0" y1="257.5" x2="44.0" y2="257.5" stroke="#000" stroke-width="1.7" stroke-linecap="butt"/>
<text x="40.0" y="259.7" font-size="6.1" font-weight="bold" text-anchor="end" fill="#000">100</text>
<line x1="40.0" y1="235.29999999999998" x2="44.0" y2="235.29999999999998" stroke="#000" stroke-width="1.7" stroke-linecap="butt"/>
<text x="40.0" y="237.49999999999997" font-size="6.1" font-weight="bold" text-anchor="end" fill="#000">200</text>
<line x1="40.0" y1="213.1" x2="44.0" y2="213.1" stroke="#000" stroke-width="1.7" stroke-linecap="butt"/>
<text x="40.0" y="215.29999999999998" font-size="6.1" font-weight="bold" text-anchor="end" fill="#000">300</text>
<line x1="40.0" y1="190.89999999999998" x2="44.0" y2="190.89999999999998" stroke="#000" stroke-width="1.7" stroke-linecap="butt"/>
<text x="40.0" y="193.09999999999997" font-size="6.1" font-weight="bold" text-anchor="end" fill="#000">400</text>
<line x1="71.1" y1="279.7" x2="71.1" y2="283.09999999999997" stroke="#000" stroke-width="1.2" stroke-linecap="butt"/>
<line x1="124.8" y1="279.7" x2="124.8" y2="283.09999999999997" stroke="#000" stroke-width="1.2" stroke-linecap="butt"/>
<line x1="178.9" y1="279.7" x2="178.9" y2="283.09999999999997" stroke="#000" stroke-width="1.2" stroke-linecap="butt"/>
<text x="24.8" y="235.4" font-size="9.6" font-weight="bold" text-anchor="middle" fill="#000" transform="rotate(-90 24.8 235.4)">IFN<tspan font-family="Liberation Serif,serif" font-weight="bold" font-size="10.5">γ</tspan> spots/15000 cells</text>
<rect x="53.90" y="273.17" width="15.30" height="6.53" fill="#fff" stroke="#000" stroke-width="1.6"/>
<rect x="72.60" y="191.48" width="15.40" height="88.22" fill="#000" stroke="#000" stroke-width="1.6"/>
<line x1="115.35" y1="275.371" x2="115.35" y2="274.483" stroke="#000" stroke-width="1.2" stroke-linecap="butt"/>
<line x1="111.14999999999999" y1="274.483" x2="119.55" y2="274.483" stroke="#000" stroke-width="1.2" stroke-linecap="butt"/>
<rect x="107.70" y="276.17" width="15.30" height="3.53" fill="#fff" stroke="#000" stroke-width="1.6"/>
<rect x="126.50" y="238.76" width="15.50" height="40.94" fill="#000" stroke="#000" stroke-width="1.6"/>
<line x1="169.55" y1="273.928" x2="169.55" y2="272.596" stroke="#000" stroke-width="1.2" stroke-linecap="butt"/>
<line x1="165.35000000000002" y1="272.596" x2="173.75" y2="272.596" stroke="#000" stroke-width="1.2" stroke-linecap="butt"/>
<rect x="161.90" y="274.73" width="15.30" height="4.97" fill="#fff" stroke="#000" stroke-width="1.6"/>
<line x1="188.45" y1="248.84199999999998" x2="188.45" y2="246.62199999999999" stroke="#000" stroke-width="1.2" stroke-linecap="butt"/>
<line x1="183.95" y1="246.62199999999999" x2="192.95" y2="246.62199999999999" stroke="#000" stroke-width="1.2" stroke-linecap="butt"/>
<rect x="180.80" y="249.64" width="15.30" height="30.06" fill="#000" stroke="#000" stroke-width="1.6"/>
<path d="M86.5 188.8 L142.4 188.8 L142.4 235.4" fill="none" stroke="#000" stroke-width="1.05" stroke-linejoin="round"/>
<path d="M88.8 194.3 L195.4 194.3 L195.4 241" fill="none" stroke="#000" stroke-width="1.05" stroke-linejoin="round"/>
<text x="117.8" y="190.9" font-size="10" font-weight="normal" text-anchor="middle" fill="#000" stroke="#000" stroke-width="0.3">**</text>
<text x="170.7" y="196.4" font-size="10" font-weight="normal" text-anchor="middle" fill="#000" stroke="#000" stroke-width="0.3">**</text>
<rect x="179.90" y="173.80" width="12.70" height="5.20" fill="#fff" stroke="#000" stroke-width="1.4"/>
<rect x="179.90" y="181.50" width="12.70" height="5.50" fill="#000" stroke="#000" stroke-width="1.4"/>
<text x="194.6" y="179.8" font-size="8.2" font-weight="normal" text-anchor="start" fill="#000">untreated</text>
<text x="194.6" y="186.6" font-size="8.2" font-weight="normal" text-anchor="start" fill="#000">pamidronate</text>
<text x="70.8" y="297.8" font-size="8.0" font-weight="normal" text-anchor="middle" fill="#000">None</text>
<text x="127.5" y="289.5" font-size="6.46" font-weight="bold" text-anchor="middle" fill="#000">F1-ATPase</text>
<text x="127.1" y="297.9" font-size="8.2" font-weight="normal" text-anchor="middle" fill="#000"><tspan font-family="Liberation Serif,serif" font-weight="normal" font-size="9">α</tspan> subunit</text>
<text x="179.4" y="289.5" font-size="6.46" font-weight="bold" text-anchor="middle" fill="#000">F1-ATPase</text>
<text x="179.8" y="297.9" font-size="8.2" font-weight="normal" text-anchor="middle" fill="#000"><tspan font-family="Liberation Serif,serif" font-weight="normal" font-size="9">β</tspan> subunit</text>
<text x="124.75" y="312.2" font-size="9.3" font-weight="normal" text-anchor="middle" fill="#000">Inhibition antibody</text>
<text x="276.7" y="175.9" font-size="19.5" font-weight="bold" text-anchor="start" fill="#000">C</text>
<line x1="320.5" y1="184.65000000000003" x2="320.5" y2="287.1" stroke="#000" stroke-width="2" stroke-linecap="butt"/>
<line x1="319.5" y1="286.1" x2="482.3" y2="286.1" stroke="#000" stroke-width="2" stroke-linecap="butt"/>
<line x1="315.9" y1="286.1" x2="320.5" y2="286.1" stroke="#000" stroke-width="1.7" stroke-linecap="butt"/>
<text x="316.5" y="288.6" font-size="7.0" font-weight="bold" text-anchor="end" fill="#000">0</text>
<line x1="315.9" y1="266.01000000000005" x2="320.5" y2="266.01000000000005" stroke="#000" stroke-width="1.7" stroke-linecap="butt"/>
<text x="316.5" y="268.51000000000005" font-size="7.0" font-weight="bold" text-anchor="end" fill="#000">50</text>
<line x1="315.9" y1="245.92000000000002" x2="320.5" y2="245.92000000000002" stroke="#000" stroke-width="1.7" stroke-linecap="butt"/>
<text x="316.5" y="248.42000000000002" font-size="7.0" font-weight="bold" text-anchor="end" fill="#000">100</text>
<line x1="315.9" y1="225.83000000000004" x2="320.5" y2="225.83000000000004" stroke="#000" stroke-width="1.7" stroke-linecap="butt"/>
<text x="316.5" y="228.33000000000004" font-size="7.0" font-weight="bold" text-anchor="end" fill="#000">150</text>
<line x1="315.9" y1="205.74" x2="320.5" y2="205.74" stroke="#000" stroke-width="1.7" stroke-linecap="butt"/>
<text x="316.5" y="208.24" font-size="7.0" font-weight="bold" text-anchor="end" fill="#000">200</text>
<line x1="315.9" y1="185.65000000000003" x2="320.5" y2="185.65000000000003" stroke="#000" stroke-width="1.7" stroke-linecap="butt"/>
<text x="316.5" y="188.15000000000003" font-size="7.0" font-weight="bold" text-anchor="end" fill="#000">250</text>
<line x1="347.4" y1="286.1" x2="347.4" y2="289.3" stroke="#000" stroke-width="1.2" stroke-linecap="butt"/>
<line x1="401.1" y1="286.1" x2="401.1" y2="289.3" stroke="#000" stroke-width="1.2" stroke-linecap="butt"/>
<line x1="454.9" y1="286.1" x2="454.9" y2="289.3" stroke="#000" stroke-width="1.2" stroke-linecap="butt"/>
<text x="299.3" y="235.4" font-size="9.6" font-weight="bold" text-anchor="middle" fill="#000" transform="rotate(-90 299.3 235.4)">IFN<tspan font-family="Liberation Serif,serif" font-weight="bold" font-size="10.5">γ</tspan> spots/15000 cells</text>
<line x1="338.1" y1="260.58570000000003" x2="338.1" y2="256.5677" stroke="#000" stroke-width="1.2" stroke-linecap="butt"/>
<line x1="333.90000000000003" y1="256.5677" x2="342.3" y2="256.5677" stroke="#000" stroke-width="1.2" stroke-linecap="butt"/>
<rect x="330.50" y="261.39" width="15.20" height="24.71" fill="#fff" stroke="#000" stroke-width="1.6"/>
<line x1="356.95" y1="281.6802" x2="356.95" y2="280.4748" stroke="#000" stroke-width="1.2" stroke-linecap="butt"/>
<line x1="352.95" y1="280.4748" x2="360.95" y2="280.4748" stroke="#000" stroke-width="1.2" stroke-linecap="butt"/>
<rect x="349.30" y="282.48" width="15.30" height="3.62" fill="#7f7f7f" stroke="#000" stroke-width="1.6"/>
<line x1="391.85" y1="207.34720000000004" x2="391.85" y2="197.704" stroke="#000" stroke-width="1.2" stroke-linecap="butt"/>
<line x1="387.85" y1="197.704" x2="395.85" y2="197.704" stroke="#000" stroke-width="1.2" stroke-linecap="butt"/>
<rect x="384.30" y="208.15" width="15.10" height="77.95" fill="#fff" stroke="#000" stroke-width="1.6"/>
<line x1="410.75" y1="255.36230000000003" x2="410.75" y2="249.73710000000003" stroke="#000" stroke-width="1.2" stroke-linecap="butt"/>
<line x1="406.75" y1="249.73710000000003" x2="414.75" y2="249.73710000000003" stroke="#000" stroke-width="1.2" stroke-linecap="butt"/>
<rect x="403.10" y="256.16" width="15.30" height="29.94" fill="#7f7f7f" stroke="#000" stroke-width="1.6"/>
<rect x="438.00" y="275.85" width="15.00" height="10.25" fill="#fff" stroke="#000" stroke-width="1.6"/>
<line x1="464.65" y1="279.4703" x2="464.65" y2="278.4658" stroke="#000" stroke-width="1.2" stroke-linecap="butt"/>
<line x1="460.65" y1="278.4658" x2="468.65" y2="278.4658" stroke="#000" stroke-width="1.2" stroke-linecap="butt"/>
<rect x="457.00" y="280.27" width="15.30" height="5.83" fill="#7f7f7f" stroke="#000" stroke-width="1.6"/>
<line x1="338.2" y1="246.2" x2="360" y2="246.2" stroke="#000" stroke-width="1.2" stroke-linecap="butt"/>
<text x="349.5" y="246.9" font-size="10" font-weight="normal" text-anchor="middle" fill="#000" stroke="#000" stroke-width="0.3">*</text>
<line x1="391.2" y1="190.8" x2="412.7" y2="190.8" stroke="#000" stroke-width="1.2" stroke-linecap="butt"/>
<text x="402.3" y="192.2" font-size="10" font-weight="normal" text-anchor="middle" fill="#000" stroke="#000" stroke-width="0.3">*</text>
<line x1="444.2" y1="268" x2="466.2" y2="268" stroke="#000" stroke-width="1.2" stroke-linecap="butt"/>
<text x="454.6" y="264.7" font-size="6.8" font-weight="normal" text-anchor="middle" fill="#000">n.s.</text>
<rect x="441.10" y="186.90" width="14.10" height="4.80" fill="#fff" stroke="#000" stroke-width="1.4"/>
<text x="457.2" y="191.9" font-size="8.0" font-weight="normal" text-anchor="start" fill="#000">None</text>
<rect x="441.10" y="197.70" width="14.10" height="4.60" fill="#7f7f7f" stroke="#000" stroke-width="1.4"/>
<text x="457.2" y="202.3" font-size="8.0" font-weight="normal" text-anchor="start" fill="#000">NKG2D</text>
<text x="347.5" y="296.2" font-size="8.1" font-weight="bold" text-anchor="middle" fill="#000">untreated</text>
<text x="401.2" y="296.2" font-size="8.05" font-weight="bold" text-anchor="middle" fill="#000">pamidronate</text>
<text x="455" y="296.2" font-size="8.05" font-weight="bold" text-anchor="middle" fill="#000">mevastatine</text>
<text x="11.9" y="346.2" font-size="19.5" font-weight="bold" text-anchor="start" fill="#000">D</text>
<line x1="66.1" y1="343.4" x2="66.1" y2="476.6" stroke="#000" stroke-width="2.3" stroke-linecap="butt"/>
<line x1="65.0" y1="475.5" x2="270.6" y2="475.5" stroke="#000" stroke-width="2.3" stroke-linecap="butt"/>
<line x1="61.099999999999994" y1="475.5" x2="66.1" y2="475.5" stroke="#000" stroke-width="2" stroke-linecap="butt"/>
<text x="60.89999999999999" y="478.8" font-size="9.1" font-weight="bold" text-anchor="end" fill="#000">0</text>
<line x1="61.099999999999994" y1="449.3" x2="66.1" y2="449.3" stroke="#000" stroke-width="2" stroke-linecap="butt"/>
<text x="60.89999999999999" y="452.6" font-size="9.1" font-weight="bold" text-anchor="end" fill="#000">100</text>
<line x1="61.099999999999994" y1="423.1" x2="66.1" y2="423.1" stroke="#000" stroke-width="2" stroke-linecap="butt"/>
<text x="60.89999999999999" y="426.40000000000003" font-size="9.1" font-weight="bold" text-anchor="end" fill="#000">200</text>
<line x1="61.099999999999994" y1="396.9" x2="66.1" y2="396.9" stroke="#000" stroke-width="2" stroke-linecap="butt"/>
<text x="60.89999999999999" y="400.2" font-size="9.1" font-weight="bold" text-anchor="end" fill="#000">300</text>
<line x1="61.099999999999994" y1="370.7" x2="66.1" y2="370.7" stroke="#000" stroke-width="2" stroke-linecap="butt"/>
<text x="60.89999999999999" y="374.0" font-size="9.1" font-weight="bold" text-anchor="end" fill="#000">400</text>
<line x1="61.099999999999994" y1="344.5" x2="66.1" y2="344.5" stroke="#000" stroke-width="2" stroke-linecap="butt"/>
<text x="60.89999999999999" y="347.8" font-size="9.1" font-weight="bold" text-anchor="end" fill="#000">500</text>
<text x="38.89999999999999" y="409.2" font-size="10.8" font-weight="bold" text-anchor="middle" fill="#000" transform="rotate(-90 38.89999999999999 409.2)">TNF<tspan font-family="Liberation Serif,serif" font-weight="bold" font-size="12">α</tspan> spots/15000 cells</text>
<line x1="100.3" y1="475.5" x2="100.3" y2="479.7" stroke="#000" stroke-width="1.6" stroke-linecap="butt"/>
<line x1="88.3" y1="465.02" x2="88.3" y2="464.365" stroke="#000" stroke-width="1.6" stroke-linecap="butt"/>
<line x1="83.3" y1="464.365" x2="93.3" y2="464.365" stroke="#000" stroke-width="1.6" stroke-linecap="butt"/>
<rect x="78.80" y="466.02" width="19.00" height="9.48" fill="#fff" stroke="#000" stroke-width="2.0"/>
<rect x="103.15" y="345.03" width="18.70" height="130.47" fill="#7f7f7f" stroke="#000" stroke-width="2.1"/>
<text x="103.85" y="483.4" font-size="9.9" font-weight="bold" text-anchor="end" fill="#000" transform="rotate(-90 103.85 483.4)"><tspan font-family="Liberation Serif,serif" font-weight="bold" font-size="10.5">γ</tspan>9<tspan font-family="Liberation Serif,serif" font-weight="bold" font-size="10.5">δ</tspan>2TCR NKG2D<tspan dy="-4" font-size="6.6">-</tspan></text>
<line x1="168.3" y1="475.5" x2="168.3" y2="479.7" stroke="#000" stroke-width="1.6" stroke-linecap="butt"/>
<line x1="156.3" y1="470.522" x2="156.3" y2="470.129" stroke="#000" stroke-width="1.6" stroke-linecap="butt"/>
<line x1="151.3" y1="470.129" x2="161.3" y2="470.129" stroke="#000" stroke-width="1.6" stroke-linecap="butt"/>
<rect x="146.80" y="471.52" width="19.00" height="3.98" fill="#fff" stroke="#000" stroke-width="2.0"/>
<rect x="171.15" y="370.44" width="18.70" height="105.06" fill="#7f7f7f" stroke="#000" stroke-width="2.1"/>
<text x="171.85000000000002" y="484.2" font-size="9.9" font-weight="bold" text-anchor="end" fill="#000" transform="rotate(-90 171.85000000000002 484.2)"><tspan font-family="Liberation Serif,serif" font-weight="bold" font-size="10.5">γ</tspan>9<tspan font-family="Liberation Serif,serif" font-weight="bold" font-size="10.5">δ</tspan>2TCR NKG2D<tspan dy="-4" font-size="6.6">+</tspan></text>
<line x1="236.3" y1="475.5" x2="236.3" y2="479.7" stroke="#000" stroke-width="1.6" stroke-linecap="butt"/>
<path d="M214.3 474.7 Q224.3 472.3 234.3 474.7" fill="#000" stroke="#000" stroke-width="0.6" stroke-linejoin="round"/>
<text x="239.75000000000003" y="485.2" font-size="9.5" font-weight="bold" text-anchor="end" fill="#000" transform="rotate(-90 239.75000000000003 485.2)">Mock</text>
<text x="274" y="346.9" font-size="19.5" font-weight="bold" text-anchor="start" fill="#000">E</text>
<line x1="316.2" y1="343.4" x2="316.2" y2="476.6" stroke="#000" stroke-width="2.3" stroke-linecap="butt"/>
<line x1="315.09999999999997" y1="475.5" x2="513.8" y2="475.5" stroke="#000" stroke-width="2.3" stroke-linecap="butt"/>
<line x1="311.2" y1="475.5" x2="316.2" y2="475.5" stroke="#000" stroke-width="2" stroke-linecap="butt"/>
<text x="311.0" y="478.8" font-size="9.1" font-weight="bold" text-anchor="end" fill="#000">0</text>
<line x1="311.2" y1="449.3" x2="316.2" y2="449.3" stroke="#000" stroke-width="2" stroke-linecap="butt"/>
<text x="311.0" y="452.6" font-size="9.1" font-weight="bold" text-anchor="end" fill="#000">100</text>
<line x1="311.2" y1="423.1" x2="316.2" y2="423.1" stroke="#000" stroke-width="2" stroke-linecap="butt"/>
<text x="311.0" y="426.40000000000003" font-size="9.1" font-weight="bold" text-anchor="end" fill="#000">200</text>
<line x1="311.2" y1="396.9" x2="316.2" y2="396.9" stroke="#000" stroke-width="2" stroke-linecap="butt"/>
<text x="311.0" y="400.2" font-size="9.1" font-weight="bold" text-anchor="end" fill="#000">300</text>
<line x1="311.2" y1="370.7" x2="316.2" y2="370.7" stroke="#000" stroke-width="2" stroke-linecap="butt"/>
<text x="311.0" y="374.0" font-size="9.1" font-weight="bold" text-anchor="end" fill="#000">400</text>
<line x1="311.2" y1="344.5" x2="316.2" y2="344.5" stroke="#000" stroke-width="2" stroke-linecap="butt"/>
<text x="311.0" y="347.8" font-size="9.1" font-weight="bold" text-anchor="end" fill="#000">500</text>
<text x="288.7" y="408.8" font-size="10.8" font-weight="bold" text-anchor="middle" fill="#000" transform="rotate(-90 288.7 408.8)">IFN<tspan font-family="Liberation Serif,serif" font-weight="bold" font-size="11.5">γ</tspan> spots/15000 cells</text>
<line x1="348.8" y1="475.5" x2="348.8" y2="479.7" stroke="#000" stroke-width="1.6" stroke-linecap="butt"/>
<rect x="327.30" y="473.62" width="19.00" height="1.88" fill="#fff" stroke="#000" stroke-width="2.0"/>
<rect x="351.65" y="357.86" width="18.70" height="117.64" fill="#7f7f7f" stroke="#000" stroke-width="2.1"/>
<text x="352.35" y="483.4" font-size="9.9" font-weight="bold" text-anchor="end" fill="#000" transform="rotate(-90 352.35 483.4)"><tspan font-family="Liberation Serif,serif" font-weight="bold" font-size="10.5">γ</tspan>9<tspan font-family="Liberation Serif,serif" font-weight="bold" font-size="10.5">δ</tspan>2TCR NKG2D<tspan dy="-4" font-size="6.6">-</tspan></text>
<line x1="414.6" y1="475.5" x2="414.6" y2="479.7" stroke="#000" stroke-width="1.6" stroke-linecap="butt"/>
<rect x="393.10" y="474.54" width="19.00" height="0.96" fill="#fff" stroke="#000" stroke-width="2.0"/>
<line x1="426.80000000000007" y1="398.996" x2="426.80000000000007" y2="385.896" stroke="#000" stroke-width="1.7" stroke-linecap="butt"/>
<line x1="421.30000000000007" y1="385.896" x2="432.30000000000007" y2="385.896" stroke="#000" stroke-width="1.7" stroke-linecap="butt"/>
<rect x="417.45" y="400.05" width="18.70" height="75.45" fill="#7f7f7f" stroke="#000" stroke-width="2.1"/>
<text x="418.15000000000003" y="484.2" font-size="9.9" font-weight="bold" text-anchor="end" fill="#000" transform="rotate(-90 418.15000000000003 484.2)"><tspan font-family="Liberation Serif,serif" font-weight="bold" font-size="10.5">γ</tspan>9<tspan font-family="Liberation Serif,serif" font-weight="bold" font-size="10.5">δ</tspan>2TCR NKG2D<tspan dy="-4" font-size="6.6">+</tspan></text>
<line x1="480.2" y1="475.5" x2="480.2" y2="479.7" stroke="#000" stroke-width="1.6" stroke-linecap="butt"/>
<line x1="468.2" y1="470.784" x2="468.2" y2="470.391" stroke="#000" stroke-width="1.6" stroke-linecap="butt"/>
<line x1="463.2" y1="470.391" x2="473.2" y2="470.391" stroke="#000" stroke-width="1.6" stroke-linecap="butt"/>
<rect x="458.70" y="471.78" width="19.00" height="3.72" fill="#fff" stroke="#000" stroke-width="2.0"/>
<line x1="492.4" y1="471.963" x2="492.4" y2="471.6486" stroke="#000" stroke-width="1.7" stroke-linecap="butt"/>
<line x1="486.9" y1="471.6486" x2="497.9" y2="471.6486" stroke="#000" stroke-width="1.7" stroke-linecap="butt"/>
<rect x="483.05" y="473.01" width="18.70" height="2.49" fill="#7f7f7f" stroke="#000" stroke-width="2.1"/>
<text x="483.65" y="482.6" font-size="9.5" font-weight="bold" text-anchor="end" fill="#000" transform="rotate(-90 483.65 482.6)">Mock</text>
</svg>
</body></html>
